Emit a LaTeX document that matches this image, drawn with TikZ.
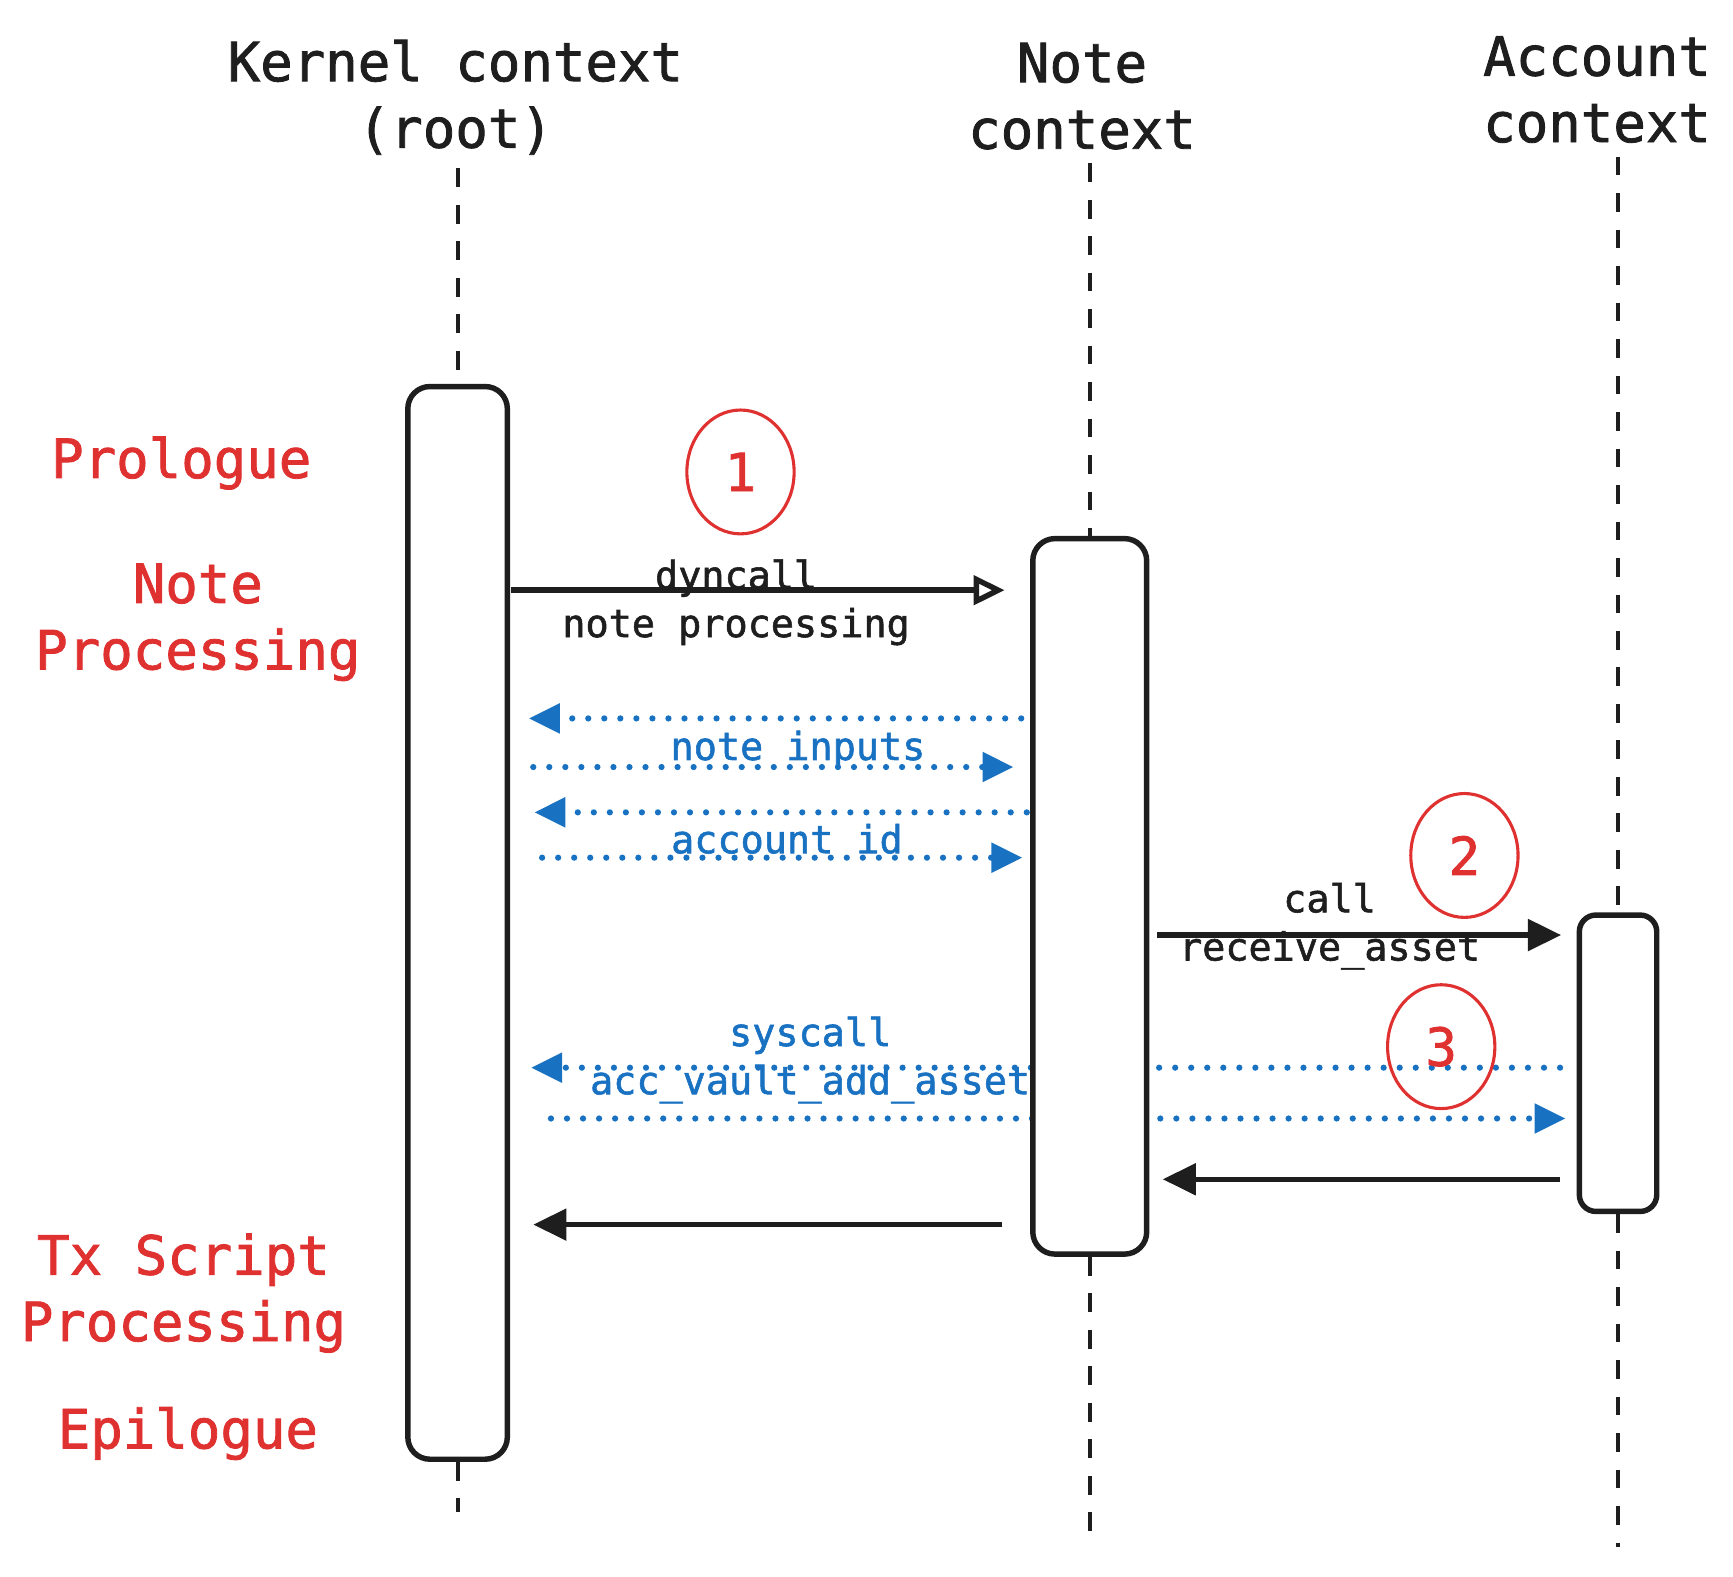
\documentclass[tikz,border=0pt]{standalone}
\usepackage{fontspec}
\setmainfont{DejaVu Sans Mono}[FakeBold=1.5]
\usepackage{xcolor}
\usepackage{tikz}
\usetikzlibrary{shapes.geometric, arrows.meta}
\definecolor{inkblack}{HTML}{1E1E1E}
\definecolor{inkred}{HTML}{E03131}
\definecolor{inkblue}{HTML}{1971C2}
\pgfdeclarelayer{back}
\pgfsetlayers{back,main}
\tikzstyle{heading} = [align=center, text=inkblack, font=\fontsize{13.9}{17.1}\selectfont]
\tikzstyle{phase} = [heading, text=inkred]
\tikzstyle{lifebox} = [rectangle, rounded corners=0.2cm, draw=inkblack, line width=1.4pt, fill=white]
\tikzstyle{lifeline} = [draw=inkblack, line width=1pt, dash pattern=on 0.17cm off 0.16cm]
\tikzstyle{stepmark} = [ellipse, draw=inkred, line width=0.8pt, text=inkred, inner sep=0pt, minimum width=0.97cm, minimum height=1.12cm, font=\fontsize{13.5}{16}\selectfont]
\tikzstyle{msglabel} = [align=center, text=inkblack, font=\fontsize{9.9}{12.4}\selectfont]
\tikzstyle{datalabel} = [msglabel, text=inkblue]
\tikzstyle{arrow} = [draw=inkblack, line width=1.4pt, -{Triangle[length=0.3cm, width=0.28cm]}]
\tikzstyle{openarrow} = [draw=inkblack, line width=1.4pt, -{Triangle[open, length=0.28cm, width=0.26cm]}]
\tikzstyle{dataarrow} = [draw=inkblue, line width=1.6pt, line cap=round, dash pattern=on 0pt off 0.145cm, -{Triangle[length=0.28cm, width=0.26cm]}]

\begin{document}
\begin{tikzpicture}[x=0.01cm, y=-0.01cm]
      \useasboundingbox (0,0) rectangle (1568,1426);
      \node (khead) [heading] at (412,88) {Kernel context\\(root)};
      \node (nhead) [heading] at (979,87) {Note\\context};
      \node (ahead) [heading] at (1445,81) {Account\\context};
      \node (kbox) [lifebox, minimum width=0.9cm, minimum height=9.7cm] at (414,835) {};
      \node (nbox) [lifebox, minimum width=1.03cm, minimum height=6.47cm] at (986,811) {};
      \node (abox) [lifebox, rounded corners=0.15cm, minimum width=0.7cm, minimum height=2.68cm] at (1464,962) {};
      \coordinate (kend) at (414,1368);
      \coordinate (nend) at (986,1395);
      \coordinate (aend) at (1464,1400);
      \draw [lifeline] (kbox.north |- khead.south) -- (kbox.north);
      \draw [lifeline] (kbox.south) -- (kend);
      \draw [lifeline] (nbox.north |- nhead.south) -- (nbox.north);
      \draw [lifeline] (nbox.south) -- (nend);
      \draw [lifeline] (abox.north |- ahead.south) -- (abox.north);
      \draw [lifeline] (abox.south) -- (aend);
      \node (pro) [phase] at (164,419) {Prologue};
      \node (notep) [phase] at (179,563) {Note\\Processing};
      \node (txp) [phase] at (166,1170) {Tx Script\\Processing};
      \node (epi) [phase] at (170,1297) {Epilogue};
      \node (one) [stepmark] at (670,427) {1};
      \node (two) [stepmark] at (1325,774) {2};
      \node (three) [stepmark] at (1304,947) {3};
      \draw [openarrow, shorten <=0.01cm, shorten >=0.23cm] (kbox.east |- 0,534) -- (nbox.west |- 0,534);
      \node (dynlabel) [msglabel] at (666,545) {dyncall\\note processing};
      \draw [dataarrow, shorten <=0.08cm, shorten >=0.17cm] (nbox.west |- 0,650) -- (kbox.east |- 0,650);
      \draw [dataarrow, shorten <=0.21cm, shorten >=0.15cm] (kbox.east |- 0,694) -- (nbox.west |- 0,694);
      \node (inlabel) [datalabel] at (722,678) {note inputs};
      \draw [dataarrow, shorten <=0.03cm, shorten >=0.22cm] (nbox.west |- 0,735) -- (kbox.east |- 0,735);
      \draw [dataarrow, shorten <=0.29cm, shorten >=0.07cm] (kbox.east |- 0,776) -- (nbox.west |- 0,776);
      \node (idlabel) [datalabel] at (712,759) {account id};
      \draw [arrow, shorten <=0.07cm, shorten >=0.14cm] (nbox.east |- 0,846) -- (abox.west |- 0,846);
      \node (calllabel) [msglabel] at (1203,838) {call\\receive\_asset};
      \begin{pgfonlayer}{back}
      \draw [dataarrow, shorten <=0.15cm, shorten >=0.19cm] (abox.west |- 0,966) -- (kbox.east |- 0,966);
      \draw [dataarrow, shorten <=0.37cm, shorten >=0.10cm] (kbox.east |- 0,1012) -- (abox.west |- 0,1012);
      \end{pgfonlayer}
      \node (syslabel) [datalabel] at (733,959) {syscall\\acc\_vault\_add\_asset};
      \draw [arrow, shorten <=0.15cm, shorten >=0.12cm] (abox.west |- 0,1067) -- (nbox.east |- 0,1067);
      \draw [arrow, shorten <=0.25cm, shorten >=0.21cm] (nbox.west |- 0,1108) -- (kbox.east |- 0,1108);
    \end{tikzpicture}
\end{document}
